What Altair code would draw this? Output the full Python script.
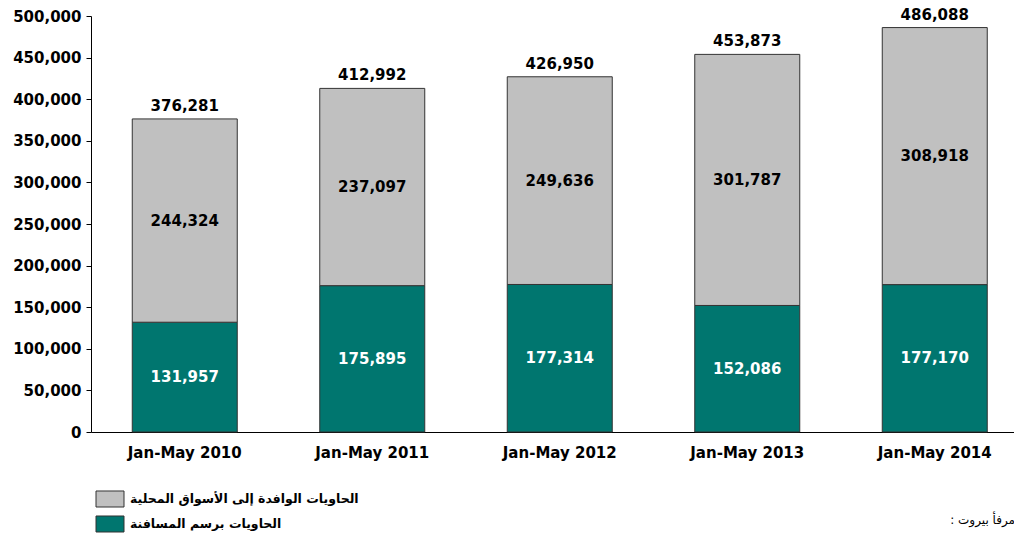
import altair as alt
import pandas as pd

years = ["Jan-May 2010", "Jan-May 2011", "Jan-May 2012", "Jan-May 2013", "Jan-May 2014"]
transship = [131957, 175895, 177314, 152086, 177170]
local = [244324, 237097, 249636, 301787, 308918]
totals = [376281, 412992, 426950, 453873, 486088]

s_local = "الحاويات الوافدة إلى الأسواق المحلية"
s_trans = "الحاويات برسم المسافنة"
source_note = ": مرفأ بيروت"

GRAY = "#C0C0C0"
TEAL = "#00766F"

rows = []
for i, y in enumerate(years):
    rows.append({"year": y, "series": s_trans, "value": transship[i], "order": 0})
    rows.append({"year": y, "series": s_local, "value": local[i], "order": 1})
df = pd.DataFrame(rows)
df_tot = pd.DataFrame({"year": years, "total": totals})
df_src = pd.DataFrame({"t": [source_note]})

FONT = "DejaVu Sans"

xscale = alt.Scale(range=[0, 937.5], paddingInner=0.44, paddingOuter=0.22)
xenc = alt.X(
    "year:N", sort=years, scale=xscale,
    axis=alt.Axis(title=None, labelAngle=0, ticks=False, labelPadding=13,
                  labelFont=FONT, labelFontWeight="bold", labelFontSize=15,
                  labelColor="black", domainColor="black", domainWidth=1),
)
yscale = alt.Scale(domain=[0, 500000], nice=False)

base = alt.Chart(df).transform_stack(
    stack="value", groupby=["year"], as_=["v0", "v1"],
    sort=[alt.SortField("order", order="ascending")],
)

bars = base.mark_bar(stroke="#333333", strokeWidth=1).encode(
    x=xenc,
    y=alt.Y("v0:Q", scale=yscale,
            axis=alt.Axis(title=None, values=list(range(0, 500001, 50000)), format=",d",
                          grid=False, tickSize=5, labelPadding=5, tickColor="black",
                          domainColor="black", labelFont=FONT, labelFontWeight="bold",
                          labelFontSize=15, labelColor="black")),
    y2="v1:Q",
    color=alt.Color("series:N",
                    scale=alt.Scale(domain=[s_local, s_trans], range=[GRAY, TEAL]),
                    legend=alt.Legend(
                        title=None, orient="none", legendX=7, legendY=471,
                        symbolType="M-1.2174,-0.696L1.2174,-0.696L1.2174,0.696L-1.2174,0.696Z",
                        symbolSize=529, symbolStrokeColor="#333333", symbolStrokeWidth=1,
                        labelFont=FONT, labelFontWeight="bold", labelFontSize=12.5,
                        labelColor="black", labelLimit=500, labelOffset=8,
                        rowPadding=2, padding=0)),
)

seg_labels = base.transform_calculate(mid="(datum.v0 + datum.v1) / 2").mark_text(
    font=FONT, fontWeight="bold", fontSize=15
).encode(
    x=alt.X("year:N", sort=years, scale=xscale),
    y=alt.Y("mid:Q", scale=yscale),
    text=alt.Text("value:Q", format=",d"),
    color=alt.condition(alt.datum.series == s_trans, alt.value("white"), alt.value("black")),
)

tot_labels = alt.Chart(df_tot).mark_text(
    font=FONT, fontWeight="bold", fontSize=15, baseline="bottom", dy=-5, color="black"
).encode(
    x=alt.X("year:N", sort=years, scale=xscale),
    y=alt.Y("total:Q", scale=yscale),
    text=alt.Text("total:Q", format=",d"),
)

src = alt.Chart(df_src).mark_text(
    font=FONT, fontSize=12, align="right", baseline="middle", color="black"
).encode(x=alt.value(924), y=alt.value(504), text="t:N")

chart = alt.layer(bars, seg_labels, tot_labels, src).properties(
    width=923, height=416,
    padding={"left": 83, "top": 8, "right": 0, "bottom": 103},
    autosize=alt.AutoSizeParams(type="none"),
).configure_view(stroke=None)

chart.save("out.html", embed_options={"renderer": "svg", "actions": False})
